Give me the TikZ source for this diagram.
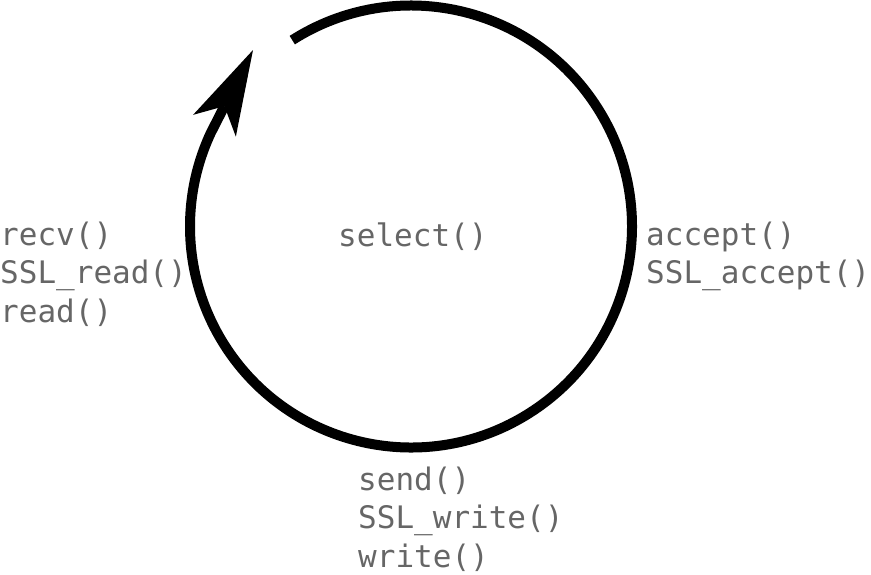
\documentclass[tikz,border=0pt]{standalone}
\usepackage{fontspec}
\usetikzlibrary{arrows.meta, calc}
\newfontfamily\codefont{DejaVu Sans Mono}
\definecolor{mygray}{RGB}{102,102,102}

\begin{document}
\begin{tikzpicture}[x=1pt, y=1pt,
    calls/.style={anchor=base west, align=left, inner sep=0pt, color=mygray,
        font=\codefont\fontsize{31}{38.5}\selectfont},
    loop/.style={line width=10pt,
        -{Stealth[length=85pt, width=48pt, inset=22pt, line width=0pt]}}]
    \useasboundingbox (0, 0) rectangle (871, -574);
    % the event loop
    \coordinate (hub) at (411, -226.5);
    \coordinate (gap) at ($(hub) + (122.5:221)$);
    \coordinate (tip) at (253, -50);
    \draw[loop] (gap) arc[start angle=122.5, end angle=-205, radius=221]
        -- (tip);
    % calls round the loop (base = last line)
    \node[calls] (sel) at (338, -246) {select()};
    \node[calls] (rd) at (0, -322) {recv()\\SSL\_read()\\read()};
    \node[calls] (acc) at (646, -283.5) {accept()\\SSL\_accept()};
    \node[calls] (wr) at (358, -567) {send()\\SSL\_write()\\write()};
\end{tikzpicture}
\end{document}
